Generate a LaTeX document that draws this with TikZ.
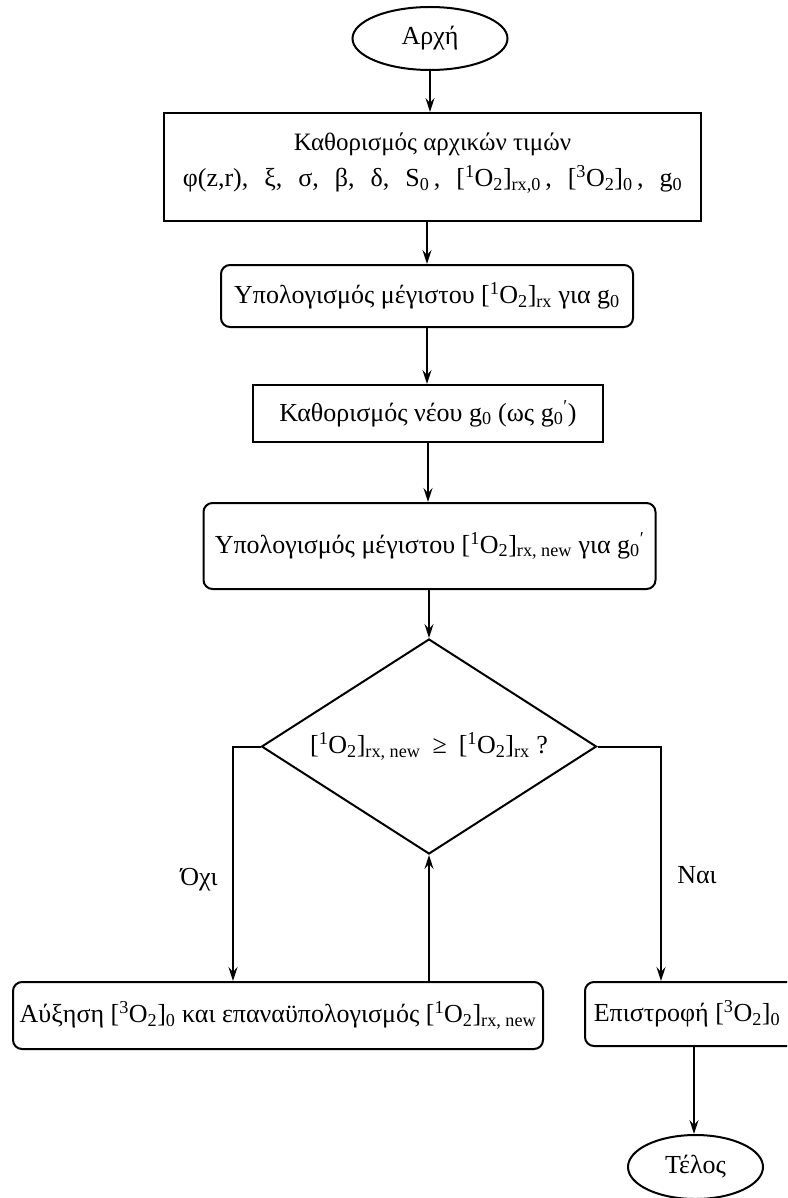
\documentclass[tikz,border=0pt]{standalone}
\usepackage{fontspec}
\setmainfont{Liberation Serif}
\usetikzlibrary{shapes.geometric,arrows.meta}
\newcommand{\OO}[2]{[\textsuperscript{1}O\textsubscript{2}]\textsubscript{#2}}
\newcommand{\OOt}[1]{[\textsuperscript{3}O\textsubscript{2}]\textsubscript{#1}}
\newcommand{\gap}{\hspace{16pt}}
\begin{document}
\begin{tikzpicture}[x=1pt,y=-1pt,
  every node/.style={font=\fontsize{26}{31}\selectfont, inner sep=0pt},
  ln/.style={line width=2pt},
  arr/.style={ln,-{Stealth[length=14pt,width=9pt,inset=5pt]}},
  term/.style={ln,draw,ellipse},
  sqbox/.style={ln,draw,rectangle,align=center},
  rbox/.style={ln,draw,rectangle,rounded corners=9pt,align=center},
  dec/.style={ln,draw,diamond,shape aspect=1.56},
  lab/.style={}]
\clip (0,0) rectangle (787,1198);
\fill[white] (0,0) rectangle (787,1198);
\node[term, minimum width=155, minimum height=63] (start) at (430,38.5) {Αρχή};
\node[sqbox, minimum width=537, minimum height=108] (b1) at (432.5,167)
  {{\fontsize{25}{30}\selectfont Καθορισμός αρχικών τιμών}\\[5pt]
   φ(z,r),\gap ξ,\gap σ,\gap β,\gap δ,\gap S\textsubscript{0}\,,\gap \OO{1}{rx,0}\,,\gap \OOt{0}\,,\gap g\textsubscript{0}\\[-17pt]\mbox{}};
\node[rbox, minimum width=412, minimum height=62] (b2) at (427,296)
  {Υπολογισμός μέγιστου \OO{1}{rx} για g\textsubscript{0}};
\node[sqbox, minimum width=350, minimum height=57] (b3) at (428,413.5)
  {Καθορισμός νέου g\textsubscript{0} (ως g\textsubscript{0}\textsuperscript{′})};
\node[rbox, minimum width=452, minimum height=86] (b4) at (429.5,546)
  {Υπολογισμός μέγιστου \OO{1}{rx, new} για g\textsubscript{0}\textsuperscript{′}};
\node[dec, minimum width=335, minimum height=215] (d) at (429,746.5)
  {\OO{1}{rx, new}\hspace{12pt}≥\hspace{12pt}\OO{1}{rx} ?};
\node[rbox, minimum width=530, minimum height=67] (bl) at (278,1015.5)
  {Αύξηση \OOt{0} και επαναϋπολογισμός \OO{1}{rx, new}};
\node[rbox, minimum width=218, minimum height=64] (br) at (694,1014)
  {Επιστροφή \OOt{0}\hspace*{14pt}};
\node[term, minimum width=135, minimum height=64] (end) at (695.5,1167) {Τέλος};
\node[lab] (no) at (199,880) {Όχι};
\node[lab] (yes) at (697,875) {Ναι};
\draw[arr] (start.south) -- (start.south |- b1.north);
\draw[arr] (b1.south -| b2.north) -- (b2.north);
\draw[arr] (b2.south) -- (b2.south |- b3.north);
\draw[arr] (b3.south) -- (b3.south |- b4.north);
\draw[arr] (b4.south -| d.north) -- (d.north);
\draw[arr] (d.west) -| ([xshift=-45pt]bl.north);
\draw[arr] (bl.north -| d.south) -- (d.south);
\draw[arr] (d.east) -| ([xshift=-33pt]br.north);
\draw[arr] (br.south) -- (br.south |- end.north);
\end{tikzpicture}
\end{document}
